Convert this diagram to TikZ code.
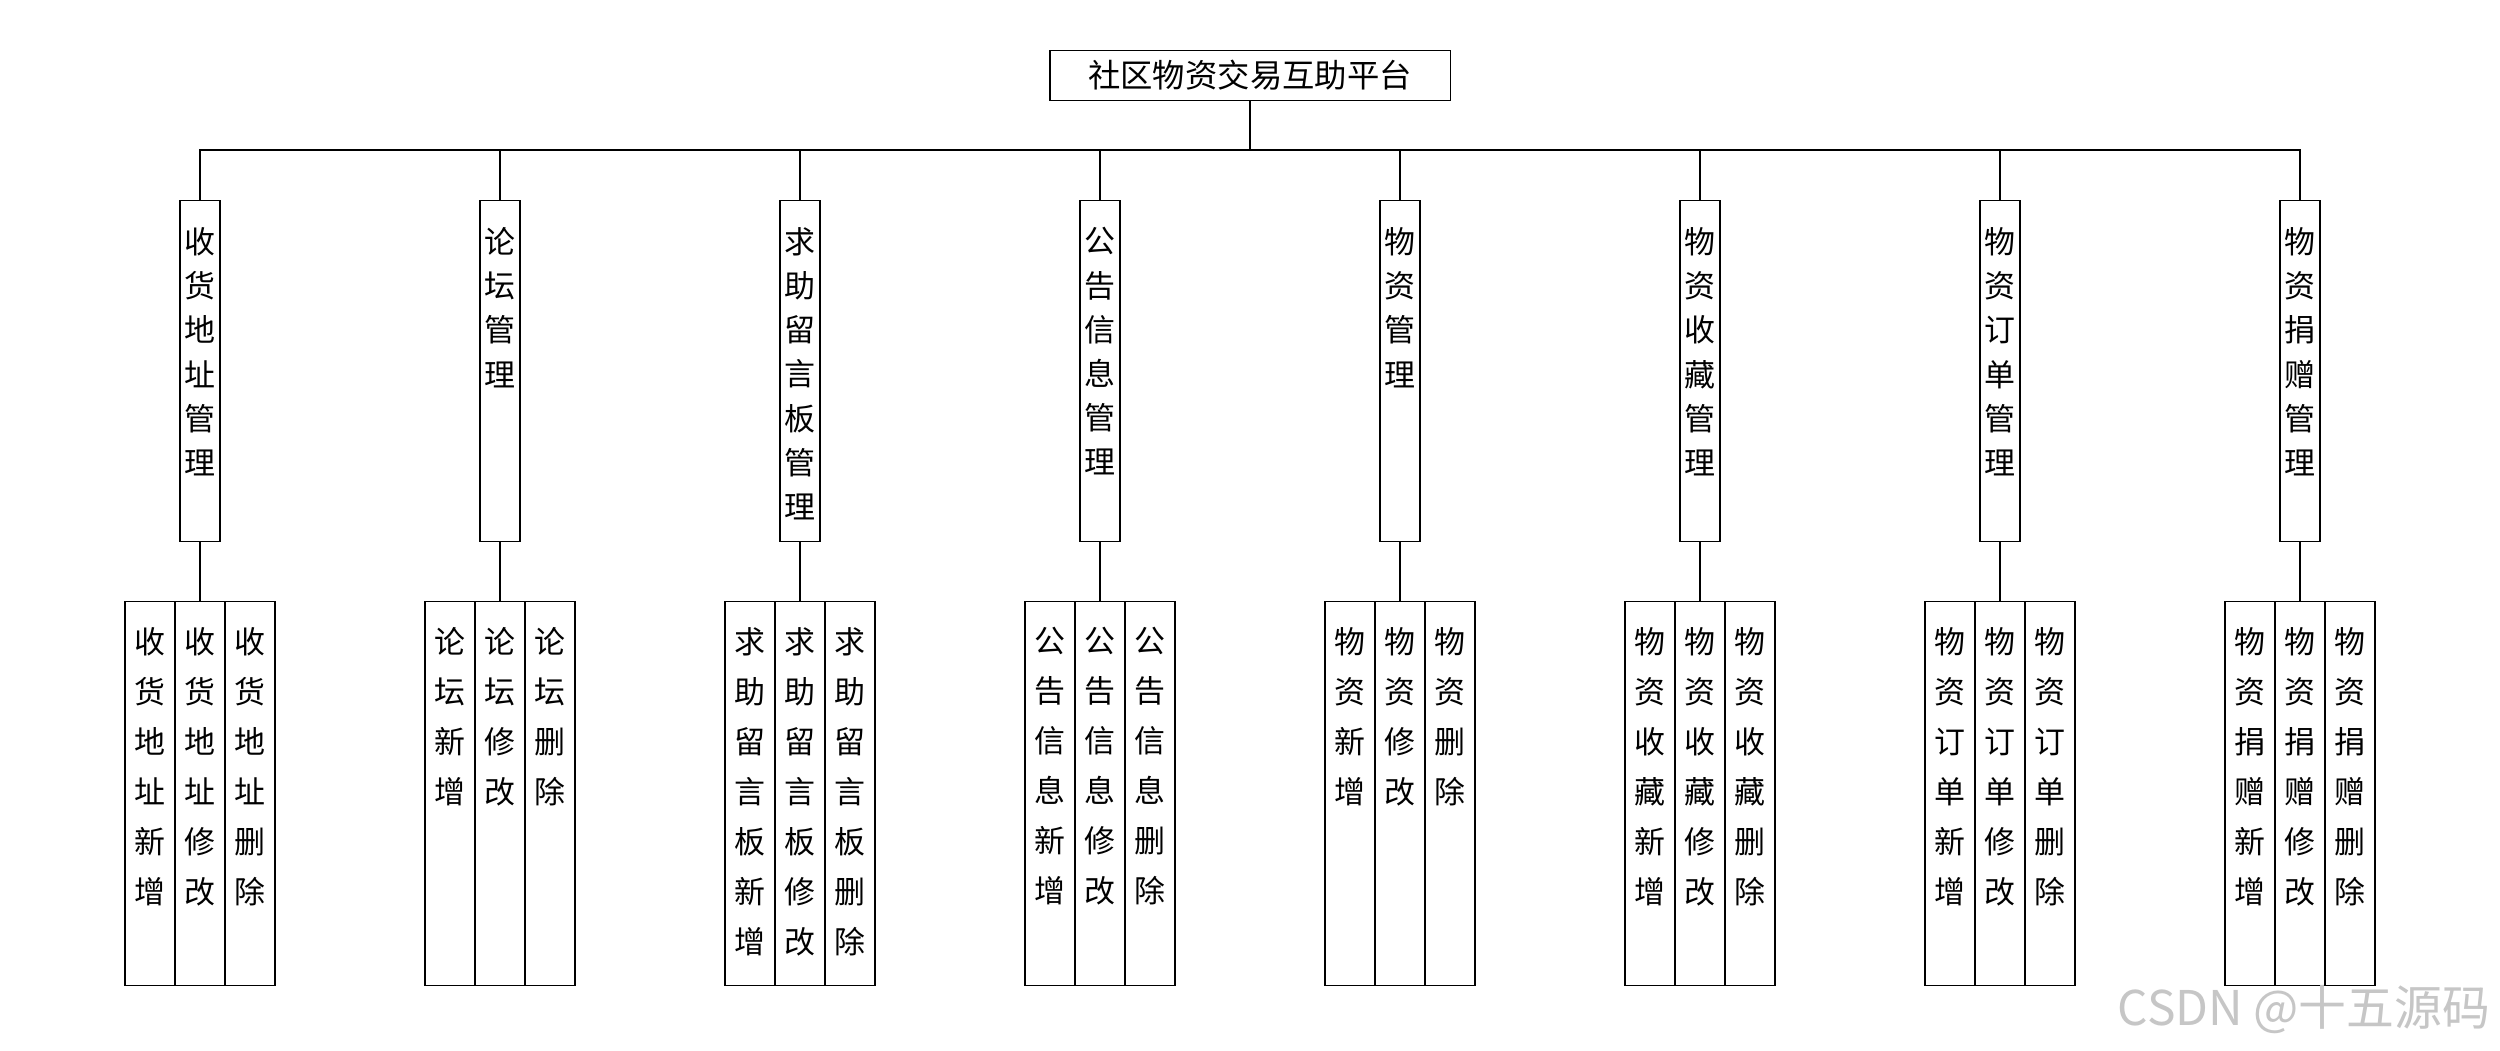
\documentclass[tikz,border=0pt]{standalone}
\usepackage{fontspec}
\newfontfamily\cjk{Noto Sans CJK SC}
\begin{document}
\begin{tikzpicture}[x=0.01cm,y=-0.01cm,line width=0.35pt,
  topbox/.style={draw,minimum width=4cm,minimum height=0.5cm,inner sep=0pt,font=\cjk\fontsize{9.2}{11}\selectfont},
  midbox/.style={draw,minimum width=0.4cm,minimum height=3.41cm,inner sep=0pt},
  leafbox/.style={draw,minimum width=0.5cm,minimum height=3.833cm,inner sep=0pt},
  midtxt/.style={anchor=north,inner sep=0pt,align=center,font=\cjk\fontsize{8.8}{12.55}\selectfont},
  leaftxt/.style={anchor=north,inner sep=0pt,align=center,font=\cjk\fontsize{8.8}{14.2}\selectfont},
  wmark/.style={inner sep=0pt,text=gray!45,font=\cjk\fontsize{13.6}{15}\selectfont}]
\useasboundingbox (0,0) rectangle (2500,1050);
\fill[white] (0,0) rectangle (2500,1050);
\node[topbox] (top) at (1250,75.2) {社区物资交易互助平台};
\coordinate (bus) at (1250,150);
\draw (top.south) -- (bus);
\newcommand\mybranch[6]{%
  \node[midbox] (m#1) at (#2,370.8) {};
  \node[midtxt] (m#1t) at (#2,227) {#3};
  \node[leafbox] (l#1a) at (#2-50,793.4) {};
  \node[leafbox] (l#1b) at (#2,793.4) {};
  \node[leafbox] (l#1c) at (#2+50,793.4) {};
  \node[leaftxt] (l#1at) at (#2-50,627) {#4};
  \node[leaftxt] (l#1bt) at (#2,627) {#5};
  \node[leaftxt] (l#1ct) at (#2+50,627) {#6};
  \draw (bus) -| (m#1.north);
  \draw (m#1.south) -- (l#1b.north);
}
\mybranch{1}{200}{收\\货\\地\\址\\管\\理}{收\\货\\地\\址\\新\\增}{收\\货\\地\\址\\修\\改}{收\\货\\地\\址\\删\\除}
\mybranch{2}{500}{论\\坛\\管\\理}{论\\坛\\新\\增}{论\\坛\\修\\改}{论\\坛\\删\\除}
\mybranch{3}{800}{求\\助\\留\\言\\板\\管\\理}{求\\助\\留\\言\\板\\新\\增}{求\\助\\留\\言\\板\\修\\改}{求\\助\\留\\言\\板\\删\\除}
\mybranch{4}{1100}{公\\告\\信\\息\\管\\理}{公\\告\\信\\息\\新\\增}{公\\告\\信\\息\\修\\改}{公\\告\\信\\息\\删\\除}
\mybranch{5}{1400}{物\\资\\管\\理}{物\\资\\新\\增}{物\\资\\修\\改}{物\\资\\删\\除}
\mybranch{6}{1700}{物\\资\\收\\藏\\管\\理}{物\\资\\收\\藏\\新\\增}{物\\资\\收\\藏\\修\\改}{物\\资\\收\\藏\\删\\除}
\mybranch{7}{2000}{物\\资\\订\\单\\管\\理}{物\\资\\订\\单\\新\\增}{物\\资\\订\\单\\修\\改}{物\\资\\订\\单\\删\\除}
\mybranch{8}{2300}{物\\资\\捐\\赠\\管\\理}{物\\资\\捐\\赠\\新\\增}{物\\资\\捐\\赠\\修\\改}{物\\资\\捐\\赠\\删\\除}
\node[wmark] (wm) at (2304,1010) {CSDN @十五源码};
\end{tikzpicture}
\end{document}
